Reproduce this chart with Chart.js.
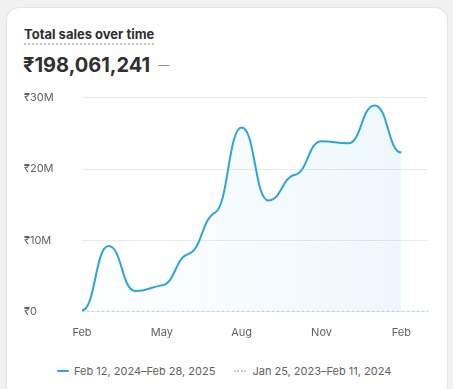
<!DOCTYPE html>
<html>
<head>
<meta charset="utf-8">
<script src="https://cdn.jsdelivr.net/npm/chart.js@4"></script>
<style>
    body { margin: 0; background: #f1f1f1; font-family: Inter, "Noto Sans", sans-serif; }
    .card {
        position: absolute; left: 7px; top: 8px; width: 440px; height: 400px;
        background: #fff; border-radius: 12px; box-shadow: 0 0 0 1px #e3e3e3;
    }
    .title {
        position: absolute; left: 17px; top: 18px; font-size: 13px; font-weight: 650; color: #303030;
        border-bottom: 2px dotted #c4c4c4; padding-bottom: 1px;
    }
    .total {
        position: absolute; left: 16px; top: 45px; font-size: 20px; font-weight: 650; color: #303030;
    }
    .total span { color: #8a8a8a; font-weight: 400; font-size: 11px; margin-left: 8px; vertical-align: 3px; }
    .chart-wrap { position: absolute; left: 17px; top: 75px; width: 410px; height: 262px; }
    .legend {
        position: absolute; left: 50px; top: 356px; font-size: 11px; color: #616161;
        display: flex; align-items: center;
    }
    .legend .item { display: flex; align-items: center; margin-right: 19px; }
    .legend .solid { width: 12px; height: 2px; background: #2ba6d8; border-radius: 1px; margin-right: 5px; }
    .legend .dots { width: 12px; height: 0; border-top: 2px dotted #a6d5ea; margin-right: 6px; }
</style>
</head>
<body>
<div class="card">
    <div class="title">Total sales over time</div>
    <div class="total">₹198,061,241<span>—</span></div>
    <div class="chart-wrap"><canvas id="salesChart"></canvas></div>
    <div class="legend">
        <div class="item"><div class="solid"></div>Feb 12, 2024–Feb 28, 2025</div>
        <div class="item"><div class="dots"></div>Jan 25, 2023–Feb 11, 2024</div>
    </div>
</div>
<script>
// Month categories (previous period has one more month)
const months = ['Feb', 'Mar', 'Apr', 'May', 'Jun', 'Jul', 'Aug', 'Sep', 'Oct', 'Nov', 'Dec', 'Jan', 'Feb', ''];
const tickLabels = ['Feb', 'May', 'Aug', 'Nov', 'Feb'];
const tickIndexes = [0, 3, 6, 9, 12];

// Sales in rupees
const currentSales = [0.2e6, 9.2e6, 2.9e6, 3.7e6, 8.1e6, 13.9e6, 25.8e6, 15.6e6, 19.2e6, 23.9e6, 23.6e6, 28.9e6, 22.3e6];
const previousSales = [0, 0, 0, 0, 0, 0, 0, 0, 0, 0, 0, 0, 0, 0];

Chart.defaults.font.family = 'Inter, "Noto Sans", sans-serif';
Chart.defaults.color = '#616161';

function fillGradient(context) {
    const chart = context.chart;
    const area = chart.chartArea;
    if (!area) return 'rgba(43,166,216,0.05)';
    const gradient = chart.ctx.createLinearGradient(area.left, 0, area.right, 0);
    gradient.addColorStop(0, 'rgba(43, 166, 216, 0)');
    gradient.addColorStop(1, 'rgba(43, 166, 216, 0.09)');
    return gradient;
}

// Nearly flat tangents at every point, like the step-ish smooth curve in the original
const flatCurve = {
    id: 'flatCurve',
    beforeDatasetsDraw(chart) {
        const meta = chart.getDatasetMeta(0);
        const line = meta.dataset;
        line.updateControlPoints(chart.chartArea, 'x');
        const pts = meta.data;
        for (let i = 0; i < pts.length; i++) {
            const p = pts[i];
            const prev = pts[i - 1] || p;
            const next = pts[i + 1] || p;
            let slope = 0;
            if (next !== prev) slope = 0.2 * (next.y - prev.y) / (next.x - prev.x);
            if ((p.y - prev.y) * (next.y - p.y) <= 0) slope = 0;
            const d1 = (p.x - prev.x) / 2;
            const d2 = (next.x - p.x) / 2;
            p.cp1x = p.x - d1;
            p.cp1y = p.y - slope * d1;
            p.cp2x = p.x + d2;
            p.cp2y = p.y + slope * d2;
        }
    }
};

new Chart(document.getElementById('salesChart'), {
    type: 'line',
    data: {
        labels: months,
        datasets: [{
            label: 'Feb 12, 2024–Feb 28, 2025',
            data: currentSales,
            borderColor: '#2ba6d8',
            borderWidth: 2,
            backgroundColor: fillGradient,
            fill: 'origin',
            tension: 0.4,
            pointRadius: 0
        }, {
            label: 'Jan 25, 2023–Feb 11, 2024',
            data: previousSales,
            borderColor: '#9fd2ea',
            borderWidth: 2,
            borderDash: [2, 3],
            fill: false,
            pointRadius: 0
        }]
    },
    options: {
        responsive: true,
        maintainAspectRatio: false,
        animation: false,
        layout: { padding: { top: 6, right: 6 } },
        scales: {
            y: {
                min: 0,
                max: 30e6,
                afterFit: scale => { scale.width = 58; },
                ticks: {
                    stepSize: 10e6,
                    font: { size: 11 },
                    crossAlign: 'far',
                    padding: 8,
                    callback: v => v === 0 ? '₹0' : '₹' + (v / 1e6) + 'M'
                },
                grid: { color: '#ebebeb', drawTicks: false },
                border: { display: false }
            },
            x: {
                ticks: {
                    font: { size: 11 },
                    autoSkip: false,
                    maxRotation: 0,
                    padding: 6,
                    callback: function(value, index) {
                        const k = tickIndexes.indexOf(index);
                        return k >= 0 ? tickLabels[k] : '';
                    }
                },
                grid: { display: false },
                border: { display: false }
            }
        },
        plugins: {
            legend: { display: false },
            tooltip: { enabled: false }
        }
    },
    plugins: [flatCurve]
});
</script>
</body>
</html>
